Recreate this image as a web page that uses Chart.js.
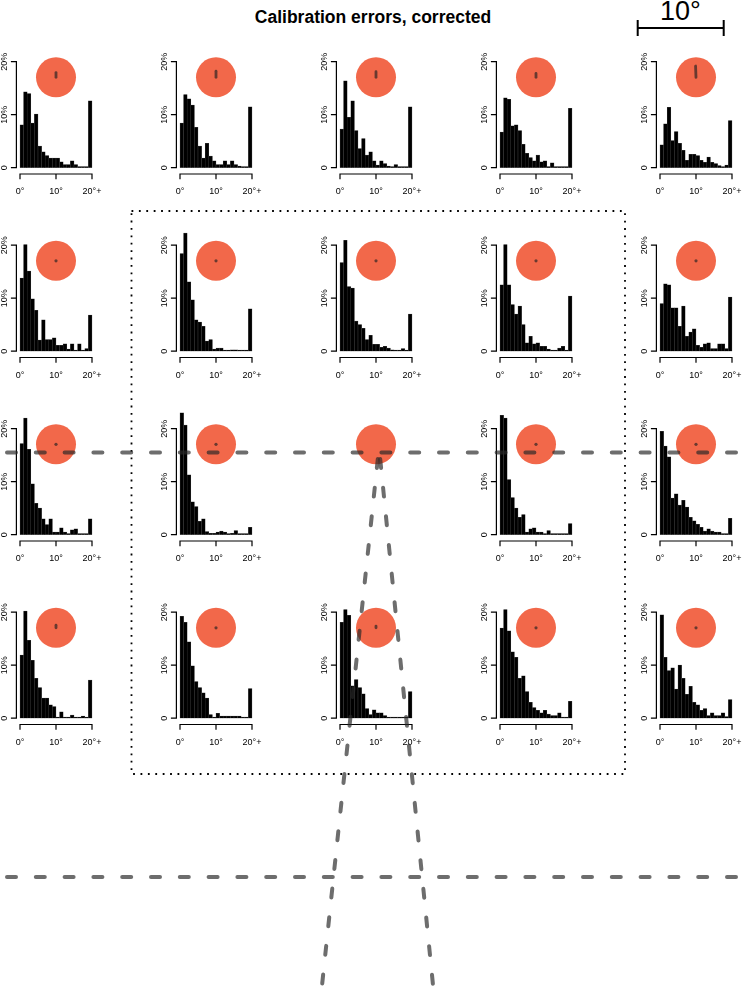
<!DOCTYPE html>
<html>
<head>
<meta charset="utf-8">
<script src="https://cdn.jsdelivr.net/npm/chart.js@4.4.1/dist/chart.umd.min.js"></script>
<style>
  html, body { margin: 0; padding: 0; background: #fff; }
  body { width: 748px; height: 990px; position: relative; overflow: hidden;
         font-family: "Liberation Sans", Arial, Helvetica, sans-serif; color: #000; }
  canvas { position: absolute; }
  #title { position: absolute; left: 0; width: 746px; top: 9px; text-align: center;
           font-weight: bold; font-size: 17.5px; line-height: 17.5px; }
  #scaleLabel { position: absolute; left: 630px; width: 101px; top: -2px; text-align: center;
                font-size: 27px; line-height: 27px; }
  #overlay { pointer-events: none; }
</style>
</head>
<body>
<div id="title">Calibration errors, corrected</div>
<div id="scaleLabel">10°</div>
<canvas id="overlay" width="748" height="990" style="left:0;top:0;width:748px;height:990px;z-index:5"></canvas>
<script>
// --- DATA: share of errors (%) per 1° bin, last bin is 20°+ ---
const errR1C1 = [8.1, 14.3, 14.0, 8.4, 10.1, 4.1, 3.0, 2.3, 1.8, 1.8, 1.8, 1.1, 0.6, 0.6, 1.3, 0.6, 0, 0, 0, 12.6];
const errR1C2 = [8.4, 13.8, 13.0, 11.8, 7.6, 4.1, 1.8, 4.6, 2.2, 1.3, 0.6, 0.6, 1.3, 0.6, 1.3, 0.6, 0.3, 0, 0, 11.5];
const errR1C3 = [7.3, 16.4, 9.5, 12.6, 7.0, 3.6, 5.5, 2.4, 3.0, 1.3, 0.5, 1.3, 0.8, 0.3, 0, 0.6, 0, 0, 0, 11.5];
const errR1C4 = [6.7, 13.2, 12.9, 7.9, 8.1, 7.0, 4.4, 2.7, 1.9, 1.3, 2.4, 1.1, 1.3, 0, 0.9, 0, 0, 0, 0, 11.2];
const errR1C5 = [4.3, 8.3, 11.4, 5.1, 6.8, 4.6, 3.3, 1.4, 2.5, 2.5, 2.3, 1.4, 1.0, 2.0, 1.0, 0.8, 0.4, 0, 0.5, 8.9];

const errR2C1 = [13.8, 20.1, 15.1, 9.9, 7.7, 2.1, 5.9, 2.2, 2.2, 2.5, 1.1, 1.1, 1.4, 0.4, 1.4, 0, 1.4, 0.1, 0.5, 6.8];
const errR2C2 = [18.4, 22.3, 13.1, 9.7, 5.9, 5.5, 4.7, 1.9, 2.2, 0.4, 0.6, 0.6, 0.1, 0.1, 0.25, 0.25, 0.1, 0, 0, 8.0];
const errR2C3 = [16.7, 20.9, 12.2, 11.9, 5.7, 5.0, 4.3, 2.2, 3.0, 1.3, 1.3, 0.75, 0.9, 0.6, 0.25, 0.1, 0.1, 0.5, 0, 7.0];
const errR2C4 = [12.5, 20.1, 12.5, 8.8, 7.0, 8.5, 5.0, 1.6, 2.8, 1.4, 1.6, 0.9, 0.9, 0.4, 0, 0, 0.6, 0.9, 0.2, 10.4];
const errR2C5 = [9.0, 12.7, 12.5, 8.2, 8.2, 4.7, 8.5, 2.8, 3.6, 4.2, 1.1, 0.75, 1.4, 1.6, 0.5, 0.5, 1.4, 1.4, 0.5, 10.2];

const errR3C1 = [17.2, 22.0, 16.1, 9.6, 5.9, 5.0, 3.0, 1.9, 3.0, 0.5, 0.5, 1.3, 0.5, 0.2, 0.9, 1.1, 0.2, 0, 0, 3.0];
const errR3C2 = [23.0, 20.7, 11.3, 6.2, 5.3, 2.5, 3.0, 0.6, 0.25, 0.25, 0.5, 0.7, 0.5, 0, 0.25, 0.8, 0.1, 0.1, 0.1, 1.4];
const errR3C4 = [22.5, 22.0, 10.4, 7.0, 5.0, 3.3, 3.8, 0.5, 1.1, 1.3, 0.5, 0.5, 0.2, 0.8, 0, 0, 0.2, 0, 0.2, 2.1];
const errR3C5 = [19.5, 16.7, 14.7, 6.9, 7.7, 5.6, 6.5, 5.2, 3.3, 2.6, 1.95, 1.4, 0.7, 1.1, 0.7, 0.5, 0.5, 0.2, 0, 3.1];

const errR4C1 = [11.9, 20.2, 14.7, 10.9, 7.5, 5.8, 3.8, 3.8, 2.5, 2.2, 0, 1.2, 0.2, 0.2, 0.6, 0, 0, 0.4, 0, 7.2];
const errR4C2 = [19.2, 18.1, 14.4, 9.9, 6.9, 5.8, 4.8, 3.8, 0.7, 0, 0.9, 0.4, 0.4, 0.4, 0.4, 0.4, 0.4, 0, 0, 5.6];
const errR4C3 = [18.1, 20.5, 19.4, 6.1, 7.3, 5.8, 4.6, 1.8, 0.7, 1.6, 1.0, 1.0, 0.5, 0.2, 0.2, 0, 0, 0.2, 0, 5.0];
const errR4C4 = [17.0, 20.5, 16.5, 12.5, 11.5, 7.5, 8.0, 5.0, 3.0, 2.0, 1.5, 1.0, 1.5, 0.8, 0.5, 0.5, 1.0, 0, 0, 3.2];
const errR4C5 = [19.5, 11.5, 9.0, 9.5, 5.5, 10.0, 7.5, 4.5, 6.0, 3.0, 2.5, 1.5, 1.8, 0.5, 1.0, 0.5, 0.5, 1.0, 0.3, 3.5];

// grid of panels, null = no histogram (centre target)
const panelData = [
  [errR1C1, errR1C2, errR1C3, errR1C4, errR1C5],
  [errR2C1, errR2C2, errR2C3, errR2C4, errR2C5],
  [errR3C1, errR3C2, null,    errR3C4, errR3C5],
  [errR4C1, errR4C2, errR4C3, errR4C4, errR4C5]
];

// mean error vector per target, degrees (x right, y up)
const markDx = [
  [0, 0, 0, 0, -0.05],
  [0, 0, 0, 0, 0],
  [0, 0, null, 0, 0],
  [0, 0, 0, 0, 0]
];
const markDy = [
  [0.55, 0.7, 0.65, 0.45, 1.3],
  [0, 0, 0, 0, 0],
  [0.05, 0.05, null, 0, 0],
  [0.3, 0.05, 0.2, 0, 0]
];

const xTickValues = [0, 10, 20];
const xTickLabels = ['0°', '10°', '20°+'];
const yTickValues = [0, 10, 20];
const yTickLabels = ['0', '10%', '20%'];

// --- LAYOUT / STYLE ---
const COL_X0 = 19.3, COL_STEP = 160, PLOT_W = 79;
const ROW_Y0 = 61.7, ROW_STEP = 183.5, PLOT_H = 106;
const PX_PER_DEG = 8.7;          // same as the 10° scale bar
const TARGET_AT = { x: 10, y: 17.05 };
const FONT = '"Liberation Sans", Arial, Helvetica, sans-serif';
const ORANGE = '#f2684a';
const MARK_COLOR = 'rgba(70,45,40,0.8)';
const DASH_COLOR = 'rgba(40,40,40,0.68)';

const panelDecor = {
  id: 'panelDecor',
  afterDatasetsDraw(chart, args, opts) {
    const { ctx } = chart;
    const x = chart.scales.x, y = chart.scales.y;
    const cx = x.getPixelForValue(TARGET_AT.x), cy = y.getPixelForValue(TARGET_AT.y);

    ctx.save();
    if (opts.dx !== null) {
      ctx.strokeStyle = MARK_COLOR;
      ctx.fillStyle = MARK_COLOR;
      ctx.lineWidth = 2.8;
      ctx.lineCap = 'round';
      const ex = cx + opts.dx * PX_PER_DEG, ey = cy - opts.dy * PX_PER_DEG;
      if (Math.hypot(ex - cx, ey - cy) < 0.5) {
        ctx.beginPath(); ctx.arc(cx, cy, 1.6, 0, Math.PI * 2); ctx.fill();
      } else {
        ctx.beginPath(); ctx.moveTo(cx, cy); ctx.lineTo(ex, ey); ctx.stroke();
      }
    }

    if (opts.axes) {
      const base = y.getPixelForValue(0), top = y.getPixelForValue(20);
      const x0 = x.getPixelForValue(0), x20 = x.getPixelForValue(20);
      const ax = x0 - 3.6, axY = base + 6.3;
      ctx.strokeStyle = '#000';
      ctx.lineWidth = 1.2;
      ctx.lineCap = 'butt';
      ctx.beginPath();
      ctx.moveTo(ax, top); ctx.lineTo(ax, base);
      yTickValues.forEach(v => {
        const py = y.getPixelForValue(v);
        ctx.moveTo(ax + 0.6, py); ctx.lineTo(ax - 5.5, py);
      });
      ctx.moveTo(x0, axY); ctx.lineTo(x20, axY);
      xTickValues.forEach(v => {
        const px = x.getPixelForValue(v);
        ctx.moveTo(px, axY - 0.6); ctx.lineTo(px, axY + 5.3);
      });
      ctx.stroke();

      ctx.fillStyle = '#000';
      ctx.font = '9px ' + FONT;
      ctx.textAlign = 'center';
      ctx.textBaseline = 'middle';
      xTickValues.forEach((v, i) => ctx.fillText(xTickLabels[i], x.getPixelForValue(v), base + 24));
      yTickValues.forEach((v, i) => {
        ctx.save();
        ctx.translate(ax - 11.9, y.getPixelForValue(v));
        ctx.rotate(-Math.PI / 2);
        ctx.fillText(yTickLabels[i], 0, 0);
        ctx.restore();
      });
    }
    ctx.restore();
  }
};

function makePanel(r, c) {
  const values = panelData[r][c];
  const plotLeft = COL_X0 + COL_STEP * c;
  const plotTop = ROW_Y0 + ROW_STEP * r;
  const cvLeft = COL_STEP * c;
  const cvTop = Math.round(plotTop) - 45;
  const cvW = 112, cvH = 186;

  const cv = document.createElement('canvas');
  cv.width = cvW; cv.height = cvH;
  cv.style.left = cvLeft + 'px';
  cv.style.top = cvTop + 'px';
  cv.style.width = cvW + 'px';
  cv.style.height = cvH + 'px';
  document.body.appendChild(cv);

  const padTop = plotTop - cvTop;
  const padLeft = plotLeft - cvLeft;

  new Chart(cv, {
    type: 'bar',
    data: {
      datasets: [
        {
          type: 'scatter',
          data: [TARGET_AT],
          pointRadius: 20,
          pointHoverRadius: 20,
          backgroundColor: ORANGE,
          borderWidth: 0,
          clip: false,
          order: 0
        },
        {
          type: 'bar',
          data: values ? values.map((v, i) => ({ x: i + 0.5, y: v })) : [],
          backgroundColor: '#000',
          borderColor: '#3a3a3a',
          borderWidth: 0.5,
          barPercentage: 1,
          categoryPercentage: 1,
          minBarLength: 1,
          clip: false,
          order: 1
        }
      ]
    },
    options: {
      responsive: false,
      animation: false,
      events: [],
      layout: { padding: { left: padLeft, top: padTop, right: cvW - padLeft - PLOT_W, bottom: cvH - padTop - PLOT_H } },
      scales: {
        x: { type: 'linear', min: 0, max: 20, offset: false, display: false },
        y: { type: 'linear', min: 0, max: 20, display: false }
      },
      plugins: {
        legend: { display: false },
        tooltip: { enabled: false },
        panelDecor: { axes: !!values, dx: markDx[r][c], dy: markDy[r][c] }
      }
    },
    plugins: [panelDecor]
  });
}

for (let r = 0; r < panelData.length; r++) {
  for (let c = 0; c < panelData[r].length; c++) makePanel(r, c);
}

// --- OVERLAY: guide lines, dotted frame, scale bar (page pixel units) ---
const dashed = pts => ({
  data: pts, showLine: true, pointRadius: 0, borderColor: DASH_COLOR, borderWidth: 4,
  borderDash: [9, 19.8], borderCapStyle: 'round', fill: false, clip: false
});

new Chart(document.getElementById('overlay'), {
  type: 'scatter',
  data: {
    datasets: [
      dashed([{ x: 7, y: 452.5 }, { x: 760, y: 452.5 }]),
      dashed([{ x: 7, y: 877 }, { x: 760, y: 877 }]),
      dashed([{ x: 377.8, y: 459 }, { x: 321, y: 995 }]),
      dashed([{ x: 380.2, y: 459 }, { x: 434, y: 995 }]),
      {
        data: [{ x: 131.5, y: 211 }, { x: 625, y: 211 }, { x: 625, y: 774 }, { x: 131.5, y: 774 }, { x: 131.5, y: 211 }],
        showLine: true, pointRadius: 0, borderColor: '#000', borderWidth: 1.8,
        borderDash: [1.8, 5.6], fill: false, clip: false
      },
      {
        data: [{ x: 637.7, y: 20 }, { x: 637.7, y: 36 }, { x: 637.7, y: 28 }, { x: 723.7, y: 28 }, { x: 723.7, y: 20 }, { x: 723.7, y: 36 }],
        showLine: true, pointRadius: 0, borderColor: '#000', borderWidth: 2, fill: false, clip: false
      }
    ]
  },
  options: {
    responsive: false,
    animation: false,
    events: [],
    layout: { padding: 0 },
    scales: {
      x: { type: 'linear', min: 0, max: 748, display: false },
      y: { type: 'linear', min: 0, max: 990, reverse: true, display: false }
    },
    plugins: { legend: { display: false }, tooltip: { enabled: false } }
  }
});
</script>
</body>
</html>
